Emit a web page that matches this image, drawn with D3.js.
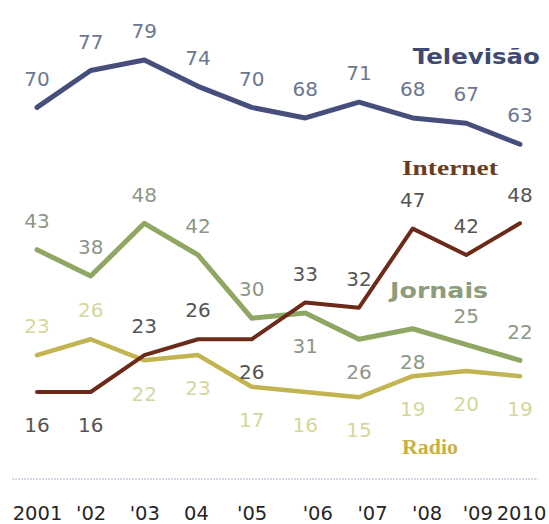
<!DOCTYPE html>
<html>
<head>
<meta charset="utf-8">
<script src="https://cdn.jsdelivr.net/npm/d3@7"></script>
<style>
  html, body { margin: 0; padding: 0; background: #ffffff; }
  svg { display: block; }
</style>
</head>
<body>
<svg id="chart" width="549" height="524"></svg>
<script>
// Survey series, one point per year
const years = ["2001", "'02", "'03", "04", "'05", "'06", "'07", "'08", "'09", "2010"];
const tvValues       = [70, 77, 79, 74, 70, 68, 71, 68, 67, 63];
const internetValues = [16, 16, 23, 26, 26, 33, 32, 47, 42, 48];
const jornaisValues  = [43, 38, 48, 42, 30, 31, 26, 28, 25, 22];
const radioValues    = [23, 26, 22, 23, 17, 16, 15, 19, 20, 19];

// Which side of the line each value label sits on
const tvLabelSide       = ["a", "a", "a", "a", "a", "a", "a", "a", "a", "a"];
const internetLabelSide = ["b", "b", "a", "a", "b", "a", "a", "a", "a", "a"];
const jornaisLabelSide  = ["a", "a", "a", "a", "a", "b", "b", "b", "a", "a"];
const radioLabelSide    = ["a", "a", "b", "b", "b", "b", "b", "b", "b", "b"];

// Small horizontal nudges for the year labels
const tickNudge = [0, 0, 0, -2, 0, 12, 13, 14, 11, 1];

const svg = d3.select("#chart");

const x = d3.scalePoint().domain(years).range([37, 520]);
const y = d3.scaleLinear().domain([0, 80]).range([476.3, 54.7]);

const series = [
  { name: "Jornais",   values: jornaisValues,  side: jornaisLabelSide,
    line: "#8fa763", width: 5, labelColor: "#8c9786",
    title: { pos: [6.58, 35.4], anchor: "start", len: 98, size: 22,
             family: "'DejaVu Sans', Verdana, sans-serif", weight: "bold", color: "#8d9c7b" } },
  { name: "Radio",     values: radioValues,    side: radioLabelSide,
    line: "#c2b551", width: 4.5, labelColor: "#d5d79a",
    title: { pos: [6.8, 5.6], anchor: "start", len: 56, size: 20,
             family: "'Liberation Serif', 'DejaVu Serif', serif", weight: "bold", color: "#c9b045" } },
  { name: "Internet",  values: internetValues, side: internetLabelSide,
    line: "#6c2a18", width: 4, labelColor: "#555555",
    title: { pos: [6.8, 58.7], anchor: "start", len: 96, size: 21,
             family: "'Liberation Serif', 'DejaVu Serif', serif", weight: "bold", color: "#6c3c1f" } },
  { name: "Televisão", values: tvValues,       side: tvLabelSide,
    line: "#464f7b", width: 5, labelColor: "#6b7792",
    title: { pos: [9.37, 79.8], anchor: "end", len: 127, size: 22,
             family: "'DejaVu Sans', Verdana, sans-serif", weight: "bold", color: "#3f4a72" } }
];

const step = x.step();
const xAt = i => x(years[0]) + i * step;

// Baseline rule
svg.append("line")
  .attr("x1", 12).attr("x2", 538)
  .attr("y1", y(0) + 2.7).attr("y2", y(0) + 2.7)
  .attr("stroke", "#aab6c8")
  .attr("stroke-width", 1)
  .attr("stroke-dasharray", "2,1");

// Year axis
const axis = svg.append("g")
  .attr("transform", "translate(0,513)")
  .call(d3.axisBottom(x).tickSize(0).tickPadding(0));
axis.select(".domain").remove();
axis.selectAll("text")
  .attr("y", 0)
  .attr("dy", "0.36em")
  .attr("dx", (d, i) => tickNudge[i])
  .attr("fill", "#262626")
  .style("font-family", "'DejaVu Sans', Verdana, sans-serif")
  .style("font-size", "19.5px");

// Lines
const lineGen = d3.line()
  .x((d, i) => x(years[i]))
  .y(d => y(d));

series.forEach(s => {
  svg.append("path")
    .datum(s.values)
    .attr("d", lineGen)
    .attr("fill", "none")
    .attr("stroke", s.line)
    .attr("stroke-width", s.width)
    .attr("stroke-linejoin", "round")
    .attr("stroke-linecap", "round");
});

// Value labels
const ABOVE = -29, BELOW = 33;
series.forEach(s => {
  svg.append("g")
    .selectAll("text")
    .data(s.values)
    .join("text")
    .attr("x", (d, i) => x(years[i]))
    .attr("y", (d, i) => y(d) + (s.side[i] === "a" ? ABOVE : BELOW))
    .attr("dy", "0.36em")
    .attr("text-anchor", "middle")
    .attr("fill", s.labelColor)
    .style("font-family", "'DejaVu Sans', Verdana, sans-serif")
    .style("font-size", "20px")
    .text(d => d);
});

// Series titles
series.forEach(s => {
  const t = s.title;
  svg.append("text")
    .attr("x", xAt(t.pos[0]))
    .attr("y", y(t.pos[1]))
    .attr("dy", "0.36em")
    .attr("text-anchor", t.anchor)
    .attr("fill", t.color)
    .attr("textLength", t.len)
    .attr("lengthAdjust", "spacingAndGlyphs")
    .style("font-family", t.family)
    .style("font-weight", t.weight)
    .style("font-size", t.size + "px")
    .text(s.name);
});
</script>
</body>
</html>
